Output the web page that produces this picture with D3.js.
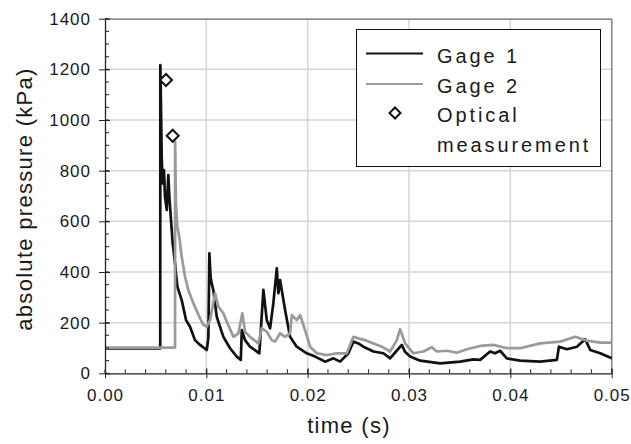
<!DOCTYPE html>
<html>
<head>
<meta charset="utf-8">
<script src="https://cdn.jsdelivr.net/npm/d3@7"></script>
<style>
  body { margin: 0; background: #fff; }
  text { font-family: "Liberation Sans", Arial, sans-serif; fill: #1a1a1a; }
  .grid line { stroke: #d6d6d6; stroke-width: 1.5; }
  .axis path, .axis line { stroke: #222; }
</style>
</head>
<body>
<div id="chart"></div>
<script>
// Gage 1 pressure trace [time (s), pressure (kPa)]
const gage1 = [
  [0, 98], [0.00545, 98], [0.00546, 1217], [0.00553, 1039], [0.0056, 842], [0.0057, 750],
  [0.00582, 802], [0.00592, 697], [0.00609, 645], [0.00625, 783], [0.00635, 697],
  [0.00649, 618], [0.00668, 513], [0.00691, 434], [0.00714, 342], [0.00757, 289],
  [0.008, 210], [0.00839, 184], [0.00888, 131], [0.00938, 112], [0.01004, 92],
  [0.0102, 140], [0.0103, 474], [0.01042, 380], [0.01053, 355], [0.01069, 329],
  [0.01103, 223], [0.01168, 144], [0.01234, 99], [0.013, 66], [0.0134, 53],
  [0.0135, 171], [0.01382, 131], [0.01431, 105], [0.01523, 79], [0.01563, 329],
  [0.01596, 210], [0.01629, 178], [0.01661, 276], [0.01695, 414], [0.01711, 316],
  [0.01728, 368], [0.01744, 329], [0.01777, 250], [0.01826, 144], [0.01892, 105],
  [0.01991, 79], [0.02073, 66], [0.02172, 46], [0.02254, 59], [0.0232, 46],
  [0.02402, 79], [0.02451, 125], [0.025, 118], [0.0255, 105], [0.02649, 86],
  [0.02747, 79], [0.02813, 59], [0.0288, 90], [0.02929, 112], [0.0296, 85],
  [0.03011, 66], [0.0311, 50], [0.03307, 39], [0.03504, 46], [0.03636, 55],
  [0.03702, 53], [0.038, 86], [0.0385, 79], [0.03899, 89], [0.03965, 59],
  [0.04097, 50], [0.04294, 46], [0.04459, 53], [0.04479, 105], [0.04558, 95],
  [0.04657, 105], [0.04739, 135], [0.04788, 92], [0.04887, 79], [0.05, 59]
];

// Gage 2 pressure trace [time (s), pressure (kPa)]
const gage2 = [
  [0, 101], [0.00691, 101], [0.00692, 914], [0.007, 671], [0.00714, 579], [0.00733, 539],
  [0.00757, 460], [0.0079, 381], [0.00822, 329], [0.00872, 276], [0.00938, 217],
  [0.00971, 191], [0.01004, 184], [0.01037, 210], [0.01086, 316], [0.01118, 263],
  [0.01168, 237], [0.01201, 204], [0.01267, 144], [0.01316, 158], [0.01355, 237],
  [0.01382, 164], [0.01431, 144], [0.01513, 118], [0.01547, 178], [0.01596, 164],
  [0.01646, 131], [0.01678, 125], [0.01728, 158], [0.01777, 144], [0.01826, 158],
  [0.01843, 230], [0.01892, 210], [0.01925, 230], [0.01974, 171], [0.02024, 105],
  [0.0209, 79], [0.02189, 72], [0.02287, 79], [0.02386, 79], [0.02451, 144],
  [0.025, 138], [0.02566, 131], [0.02649, 118], [0.02732, 105], [0.02813, 86],
  [0.0288, 131], [0.02912, 174], [0.02962, 118], [0.03043, 79], [0.03142, 86],
  [0.03225, 103], [0.03274, 86], [0.03373, 89], [0.03472, 81], [0.0357, 95],
  [0.03702, 108], [0.03833, 112], [0.03965, 99], [0.04097, 99], [0.04294, 118],
  [0.04492, 125], [0.0464, 144], [0.04755, 129], [0.04887, 121], [0.05, 121]
];

// Optical measurement points [time (s), pressure (kPa)]
const optical = [[0.00602, 1158], [0.00668, 938]];

const xTicks = [0, 0.01, 0.02, 0.03, 0.04, 0.05];
const yTicks = [0, 200, 400, 600, 800, 1000, 1200, 1400];

const legendItems = [
  { label: ["Gage 1"], type: "line", color: "#111" },
  { label: ["Gage 2"], type: "line", color: "#9a9a9a" },
  { label: ["Optical", "measurement"], type: "diamond" }
];

const width = 631, height = 444;
const margin = { top: 18.7, right: 19.3, bottom: 70.7, left: 105 };
const innerW = width - margin.left - margin.right;
const innerH = height - margin.top - margin.bottom;

const svg = d3.select("#chart").append("svg")
  .attr("width", width)
  .attr("height", height);

const chart = svg.append("g")
  .attr("transform", `translate(${margin.left},${margin.top})`);

const xScale = d3.scaleLinear().domain([0, 0.05]).range([0, innerW]);
const yScale = d3.scaleLinear().domain([0, 1400]).range([innerH, 0]);

// Gridlines
chart.append("g").attr("class", "grid")
  .selectAll("line.v").data(xTicks.slice(1)).join("line")
  .attr("x1", d => xScale(d)).attr("x2", d => xScale(d))
  .attr("y1", 0).attr("y2", innerH);
chart.append("g").attr("class", "grid")
  .selectAll("line.h").data(yTicks.slice(1)).join("line")
  .attr("x1", 0).attr("x2", innerW)
  .attr("y1", d => yScale(d)).attr("y2", d => yScale(d));

// Plot frame (top / right)
chart.append("path")
  .attr("d", `M0,0.5H${innerW}V${innerH}`)
  .attr("fill", "none")
  .attr("stroke", "#8a8a8a")
  .attr("stroke-width", 1.5);

// Lines
const line = d3.line().x(d => xScale(d[0])).y(d => yScale(d[1]));

chart.append("path").datum(gage1)
  .attr("fill", "none").attr("stroke", "#111")
  .attr("stroke-width", 2.7).attr("stroke-linejoin", "round")
  .attr("d", line);

chart.append("path").datum(gage2)
  .attr("fill", "none").attr("stroke", "#9a9a9a")
  .attr("stroke-width", 2.7).attr("stroke-linejoin", "round")
  .attr("d", line);

// Diamonds
const diamond = d3.symbol().type(d3.symbolSquare).size(72);
chart.selectAll("path.opt").data(optical).join("path")
  .attr("class", "opt")
  .attr("d", diamond)
  .attr("transform", d => `translate(${xScale(d[0])},${yScale(d[1])}) rotate(45)`)
  .attr("fill", "#fff").attr("stroke", "#111").attr("stroke-width", 2);

// Minor ticks (inside)
const xMinor = d3.range(0, 0.0501, 0.002);
const yMinor = d3.range(0, 1401, 50);
chart.append("g").selectAll("line").data(xMinor).join("line")
  .attr("x1", d => xScale(d)).attr("x2", d => xScale(d))
  .attr("y1", innerH).attr("y2", innerH - 4)
  .attr("stroke", "#222");
chart.append("g").selectAll("line").data(yMinor).join("line")
  .attr("x1", 0).attr("x2", 4)
  .attr("y1", d => yScale(d)).attr("y2", d => yScale(d))
  .attr("stroke", "#222");

// Axes
const xAxis = d3.axisBottom(xScale).tickValues(xTicks)
  .tickFormat(d3.format(".2f")).tickSizeInner(5).tickSizeOuter(0).tickPadding(11);
const yAxis = d3.axisLeft(yScale).tickValues(yTicks)
  .tickFormat(d3.format("d")).tickSizeInner(6).tickSizeOuter(0).tickPadding(8);

const xAxisG = chart.append("g").attr("class", "axis")
  .attr("transform", `translate(0,${innerH})`).call(xAxis);
const yAxisG = chart.append("g").attr("class", "axis").call(yAxis);

[xAxisG, yAxisG].forEach(g => {
  g.selectAll("text").style("font-size", "17px").style("letter-spacing", "1px")
    .attr("fill", "#1a1a1a");
  g.select(".domain").attr("stroke-width", 1.3);
});
// major ticks cross the axis
xAxisG.selectAll(".tick line").attr("y1", -5);
yAxisG.selectAll(".tick line").attr("x1", 5);

// Axis titles
svg.append("text")
  .attr("x", 349).attr("y", 433)
  .attr("text-anchor", "middle")
  .style("font-size", "22px").style("letter-spacing", "1.3px")
  .text("time (s)");

svg.append("text")
  .attr("transform", "translate(32,199) rotate(-90)")
  .attr("text-anchor", "middle")
  .style("font-size", "22px").style("letter-spacing", "1.3px")
  .text("absolute pressure (kPa)");

// Legend
const legend = svg.append("g");
legend.append("rect")
  .attr("x", 356.5).attr("y", 29.5).attr("width", 244).attr("height", 137)
  .attr("fill", "#fff").attr("stroke", "#111").attr("stroke-width", 1);

const rowY = [53.5, 84, 113];
const textY = [[62.7], [92.7], [122.3, 151.7]];
legendItems.forEach((item, i) => {
  if (item.type === "line") {
    legend.append("line")
      .attr("x1", 366).attr("x2", 423)
      .attr("y1", rowY[i]).attr("y2", rowY[i])
      .attr("stroke", item.color).attr("stroke-width", 2);
  } else {
    legend.append("path")
      .attr("d", d3.symbol().type(d3.symbolSquare).size(60))
      .attr("transform", `translate(395,${rowY[i]}) rotate(45)`)
      .attr("fill", "#fff").attr("stroke", "#111").attr("stroke-width", 2);
  }
  item.label.forEach((t, j) => {
    legend.append("text")
      .attr("x", 437).attr("y", textY[i][j])
      .style("font-size", "20px").style("letter-spacing", "2.9px")
      .text(t);
  });
});
</script>
</body>
</html>
